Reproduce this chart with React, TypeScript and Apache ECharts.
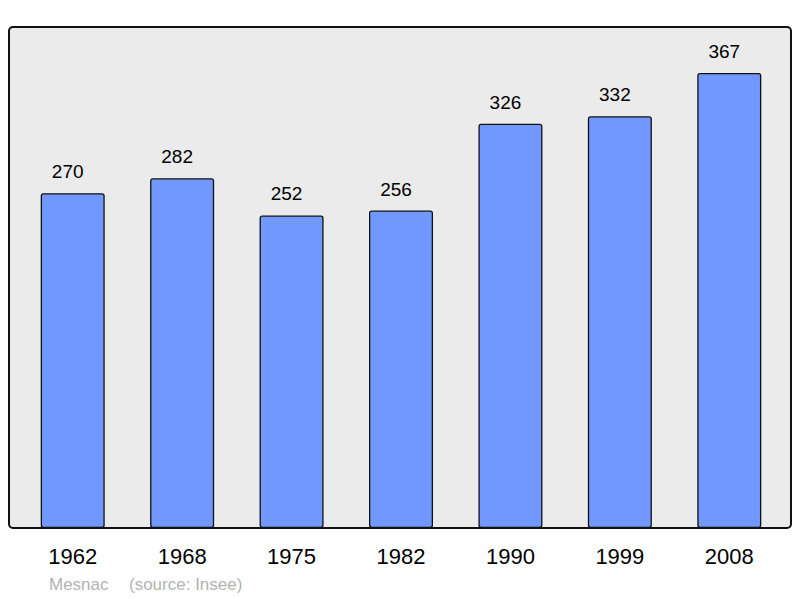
import React, { useEffect, useRef } from 'react';
import * as echarts from 'echarts';

const years = ['1962', '1968', '1975', '1982', '1990', '1999', '2008'];
const population = [270, 282, 252, 256, 326, 332, 367];
const footerName = 'Mesnac';
const footerSource = '(source: Insee)';

const App: React.FC = () => {
    const chartRef = useRef<HTMLDivElement>(null);

    useEffect(() => {
        if (!chartRef.current) return;

        const myChart = echarts.init(chartRef.current, null, { renderer: 'svg' });

        const option: echarts.EChartsOption = {
            animation: false,
            backgroundColor: '#ffffff',
            textStyle: { fontFamily: 'Liberation Sans, Arial, sans-serif' },
            graphic: [
                {
                    type: 'rect',
                    z: -10,
                    shape: { x: 9, y: 27, width: 782, height: 501, r: 4 },
                    style: { fill: '#ebebeb', stroke: '#111111', lineWidth: 2 }
                },
                {
                    type: 'text',
                    left: 49,
                    top: 576,
                    style: {
                        text: footerName,
                        fill: '#b3b3b3',
                        fontSize: 17,
                        fontFamily: 'Liberation Sans, Arial, sans-serif'
                    }
                },
                {
                    type: 'text',
                    left: 129,
                    top: 576,
                    style: {
                        text: footerSource,
                        fill: '#b3b3b3',
                        fontSize: 17,
                        fontFamily: 'Liberation Sans, Arial, sans-serif'
                    }
                }
            ],
            grid: {
                left: 18,
                right: 16,
                top: 27,
                bottom: 70
            },
            xAxis: {
                type: 'category',
                data: years,
                axisLine: { show: false },
                axisTick: { show: false },
                axisLabel: {
                    color: '#000000',
                    fontSize: 22,
                    margin: 17
                }
            },
            yAxis: {
                type: 'value',
                min: 0,
                max: 404,
                show: false,
                splitLine: { show: false }
            },
            series: [
                {
                    type: 'bar',
                    data: population,
                    barWidth: 64,
                    itemStyle: {
                        color: '#7098ff',
                        borderColor: '#111111',
                        borderWidth: 1.3,
                        borderRadius: 2
                    },
                    label: {
                        show: true,
                        position: 'top',
                        distance: 12,
                        offset: [-5, 0],
                        color: '#000000',
                        fontSize: 19
                    }
                }
            ]
        };

        myChart.setOption(option);

        return () => {
            myChart.dispose();
        };
    }, []);

    return (
        <div
            ref={chartRef}
            style={{
                position: 'absolute',
                left: 0,
                top: 0,
                width: '800px',
                height: '598px'
            }}
        />
    );
};

export default App;
